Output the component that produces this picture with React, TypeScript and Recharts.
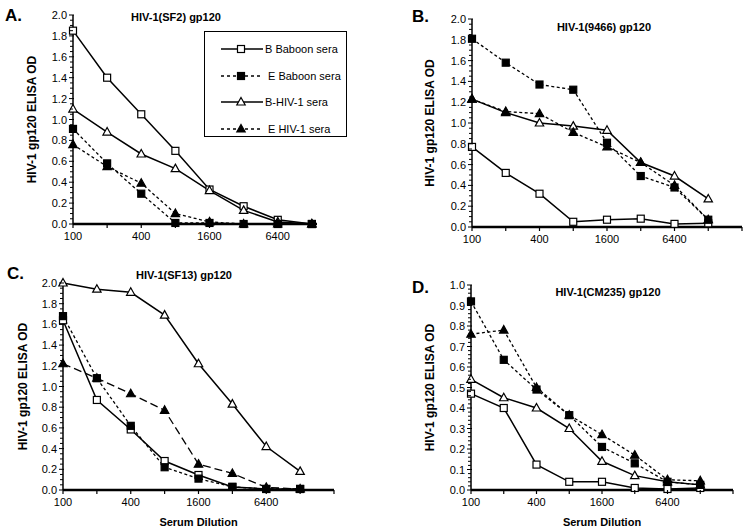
import React from "react";
import { Legend, Line, LineChart, XAxis, YAxis } from "recharts";

// serum dilutions, two-fold steps
const dilutions = ["100", "200", "400", "800", "1600", "3200", "6400", "12800"];
const xTickLabels = ["100", "", "400", "", "1600", "", "6400", "", ""];

// A. HIV-1(SF2) gp120
const sf2BBaboon = [1.85, 1.4, 1.05, 0.7, 0.33, 0.17, 0.04, 0.0];
const sf2EBaboon = [0.91, 0.58, 0.29, 0.01, 0.01, 0.0, 0.0, 0.0];
const sf2BHiv = [1.1, 0.88, 0.67, 0.53, 0.32, 0.13, 0.02, 0.0];
const sf2EHiv = [0.76, 0.55, 0.39, 0.1, 0.02, 0.0, 0.0, 0.0];

// B. HIV-1(9466) gp120
const h9466BBaboon = [0.77, 0.52, 0.32, 0.05, 0.07, 0.08, 0.03, 0.035];
const h9466EBaboon = [1.81, 1.58, 1.37, 1.32, 0.81, 0.49, 0.38, 0.07];
const h9466BHiv = [1.23, 1.1, 1.0, 0.97, 0.93, 0.62, 0.49, 0.27];
const h9466EHiv = [1.23, 1.11, 1.09, 0.91, 0.77, 0.62, 0.4, 0.07];

// C. HIV-1(SF13) gp120
const sf13BBaboon = [1.64, 0.87, 0.585, 0.28, 0.145, 0.03, 0.01, 0.01];
const sf13EBaboon = [1.68, 1.08, 0.62, 0.22, 0.11, 0.03, 0.01, 0.01];
const sf13BHiv = [2.0, 1.94, 1.91, 1.69, 1.22, 0.83, 0.42, 0.18];
const sf13EHiv = [1.22, 1.08, 0.93, 0.77, 0.25, 0.16, 0.025, 0.01];

// D. HIV-1(CM235) gp120
const cm235BBaboon = [0.47, 0.4, 0.124, 0.04, 0.04, 0.01, 0.005, 0.01];
const cm235EBaboon = [0.92, 0.635, 0.49, 0.365, 0.21, 0.13, 0.04, 0.025];
const cm235BHiv = [0.54, 0.45, 0.4, 0.3, 0.14, 0.07, 0.04, 0.025];
const cm235EHiv = [0.76, 0.78, 0.5, 0.365, 0.27, 0.17, 0.05, 0.045];

const yTicks2 = Array.from({ length: 41 }, (_, k) => Math.round(k * 5) / 100);
const yTicks1 = Array.from({ length: 51 }, (_, k) => Math.round(k * 2) / 100);

const FONT = '"Liberation Sans", Arial, Helvetica, sans-serif';

function buildRows(bb: number[], eb: number[], bh: number[], eh: number[]) {
  return dilutions.map((d, i) => ({ i, dilution: d, bb: bb[i], eb: eb[i], bh: bh[i], eh: eh[i] }));
}

type MarkerKind = "sqOpen" | "sqFill" | "triOpen" | "triFill";

function Marker({ cx, cy, kind }: { cx: number; cy: number; kind: MarkerKind }) {
  const fill = kind === "sqFill" || kind === "triFill" ? "#000" : "#fff";
  if (kind === "sqOpen" || kind === "sqFill") {
    return <rect x={cx - 3.5} y={cy - 3.5} width={7} height={7} fill={fill} stroke="#000" strokeWidth={1.2} />;
  }
  return (
    <polygon
      points={`${cx},${cy - 4.5} ${cx + 4.2},${cy + 3} ${cx - 4.2},${cy + 3}`}
      fill={fill}
      stroke="#000"
      strokeWidth={1.2}
    />
  );
}

const dotOf = (kind: MarkerKind) => (props: any) => {
  if (props.cx == null || props.cy == null) return <g key={props.index} />;
  return <Marker key={props.index} cx={props.cx} cy={props.cy} kind={kind} />;
};

const YTick = (props: any) => {
  const { x, y, payload, step } = props;
  const v = payload.value;
  const major = Math.abs(Math.round(v / step) * step - v) < 1e-6;
  return (
    <g>
      <line x1={x - (major ? 4 : 3)} x2={x + (major ? 1 : 0)} y1={y} y2={y} stroke="#000" strokeWidth={1} />
      {major && (
        <text x={x - 6} y={y + 4} textAnchor="end" fontSize={11} fontFamily={FONT} fill="#000">
          {v.toFixed(1)}
        </text>
      )}
    </g>
  );
};

const XTick = (props: any) => {
  const { x, y, payload } = props;
  const label = xTickLabels[payload.value] ?? "";
  return (
    <g>
      <line x1={x} x2={x} y1={y} y2={y + 4} stroke="#000" strokeWidth={1.2} />
      {label && (
        <text x={x} y={y + 16} textAnchor="middle" fontSize={11} fontFamily={FONT} fill="#000">
          {label}
        </text>
      )}
    </g>
  );
};

const legendItems: { name: string; kind: MarkerKind; dash?: string }[] = [
  { name: "B Baboon sera", kind: "sqOpen" },
  { name: "E Baboon sera", kind: "sqFill", dash: "3 3" },
  { name: "B-HIV-1 sera", kind: "triOpen" },
  { name: "E HIV-1 sera", kind: "triFill", dash: "3 3" },
];

function LegendBox() {
  return (
    <div style={{ fontFamily: FONT, fontSize: 11, color: "#000", paddingTop: 4 }}>
      {legendItems.map((it) => (
        <div key={it.name} style={{ display: "flex", alignItems: "center", height: 26.5, paddingLeft: 14 }}>
          <svg width={46} height={12} style={{ display: "block" }}>
            <line x1={2} x2={44} y1={6} y2={6} stroke="#000" strokeWidth={1.3} strokeDasharray={it.dash} />
            <Marker cx={22} cy={6} kind={it.kind} />
          </svg>
          <span style={{ marginLeft: it.dash ? 3 : 0 }}>{it.name}</span>
        </div>
      ))}
    </div>
  );
}

interface PanelProps {
  left: number;
  top: number;
  width: number;
  height: number;
  rows: ReturnType<typeof buildRows>;
  margin: { top: number; right: number; left: number; bottom: number };
  yWidth: number;
  yMax: number;
  xMax: number;
  xTicks: number[];
  labelOffset: number;
  xTitle?: boolean;
  ehDash: string;
  legend?: boolean;
}

function Panel(p: PanelProps) {
  const yTicks = p.yMax === 2 ? yTicks2 : yTicks1;
  const step = p.yMax === 2 ? 0.2 : 0.1;
  return (
    <div style={{ position: "absolute", left: p.left, top: p.top }}>
      <LineChart width={p.width} height={p.height} data={p.rows} margin={p.margin}>
        <XAxis
          type="number"
          dataKey="i"
          domain={[0, p.xMax]}
          ticks={p.xTicks}
          interval={0}
          tickSize={0}
          tickMargin={0}
          tick={<XTick />}
          axisLine={{ stroke: "#000", strokeWidth: 2.5 }}
          tickLine={false}
          height={p.xTitle ? 42 : 26}
          label={
            p.xTitle
              ? { value: "Serum Dilution", position: "insideBottom", offset: 6, style: { fontFamily: FONT, fontSize: 11, fontWeight: "bold", fill: "#000" } }
              : undefined
          }
        />
        <YAxis
          type="number"
          domain={[0, p.yMax]}
          ticks={yTicks}
          interval={0}
          tickSize={0}
          tickMargin={0}
          tick={<YTick step={step} />}
          axisLine={{ stroke: "#000", strokeWidth: 1.5 }}
          tickLine={false}
          width={p.yWidth}
          label={{
            value: "HIV-1 gp120 ELISA OD",
            angle: -90,
            position: "insideLeft",
            offset: p.labelOffset,
            style: { textAnchor: "middle", fontFamily: FONT, fontSize: 12, fontWeight: "bold", fill: "#000" },
          }}
        />
        {p.legend && (
          <Legend
            layout="vertical"
            align="center"
            verticalAlign="middle"
            content={() => <LegendBox />}
            wrapperStyle={{
              left: 204,
              top: 31,
              width: 143,
              height: 106,
              border: "1px solid #000",
              background: "#fff",
              boxSizing: "border-box",
            }}
          />
        )}
        <Line dataKey="bb" name="B Baboon sera" stroke="#000" strokeWidth={1.5} dot={dotOf("sqOpen")} isAnimationActive={false} />
        <Line dataKey="bh" name="B-HIV-1 sera" stroke="#000" strokeWidth={1.5} dot={dotOf("triOpen")} isAnimationActive={false} />
        <Line dataKey="eb" name="E Baboon sera" stroke="#000" strokeWidth={1.3} strokeDasharray="3 2.5" dot={dotOf("sqFill")} isAnimationActive={false} />
        <Line dataKey="eh" name="E HIV-1 sera" stroke="#000" strokeWidth={1.3} strokeDasharray={p.ehDash} dot={dotOf("triFill")} isAnimationActive={false} />
      </LineChart>
    </div>
  );
}

const textStyle = (left: number, top: number, size: number, center = false): React.CSSProperties => ({
  position: "absolute",
  left: center ? left - 100 : left,
  width: center ? 200 : undefined,
  textAlign: center ? "center" : "left",
  top: top - size * 0.6,
  fontFamily: FONT,
  fontSize: size,
  lineHeight: `${size * 1.2}px`,
  fontWeight: "bold",
  color: "#000",
  whiteSpace: "nowrap",
});

export default function App() {
  const full = [0, 1, 2, 3, 4, 5, 6, 7, 8];
  return (
    <div style={{ position: "absolute", left: 0, top: 0, width: 753, height: 532, background: "#fff", overflow: "hidden" }}>
      <Panel
        left={0}
        top={0}
        width={376}
        height={262}
        rows={buildRows(sf2BBaboon, sf2EBaboon, sf2BHiv, sf2EHiv)}
        margin={{ top: 15, right: 59, left: 0, bottom: 12 }}
        yWidth={73}
        yMax={2}
        xMax={7.15}
        xTicks={[0, 1, 2, 3, 4, 5, 6, 7]}
        labelOffset={32}
        ehDash="3 2.5"
        legend
      />
      <Panel
        left={376}
        top={0}
        width={377}
        height={262}
        rows={buildRows(h9466BBaboon, h9466EBaboon, h9466BHiv, h9466EHiv)}
        margin={{ top: 19, right: 11, left: 0, bottom: 9 }}
        yWidth={96}
        yMax={2}
        xMax={8}
        xTicks={full}
        labelOffset={54}
        ehDash="3 2.5"
      />
      <Panel
        left={0}
        top={262}
        width={376}
        height={270}
        rows={buildRows(sf13BBaboon, sf13EBaboon, sf13BHiv, sf13EHiv)}
        margin={{ top: 21, right: 42, left: 0, bottom: 0 }}
        yWidth={63}
        yMax={2}
        xMax={8}
        xTicks={full}
        labelOffset={23}
        xTitle
        ehDash="8 4"
      />
      <Panel
        left={376}
        top={262}
        width={377}
        height={270}
        rows={buildRows(cm235BBaboon, cm235EBaboon, cm235BHiv, cm235EHiv)}
        margin={{ top: 23, right: 20, left: 0, bottom: 0 }}
        yWidth={95}
        yMax={1}
        xMax={8}
        xTicks={full}
        labelOffset={54}
        xTitle
        ehDash="3 2.5"
      />

      <div style={textStyle(176, 18, 11, true)}>HIV-1(SF2) gp120</div>
      <div style={textStyle(604, 28, 11, true)}>HIV-1(9466) gp120</div>
      <div style={textStyle(184, 276, 11, true)}>HIV-1(SF13) gp120</div>
      <div style={textStyle(608, 293, 11, true)}>HIV-1(CM235) gp120</div>

      <div style={textStyle(5, 16, 17)}>A.</div>
      <div style={textStyle(412, 17, 17)}>B.</div>
      <div style={textStyle(7, 274, 17)}>C.</div>
      <div style={textStyle(412, 288, 17)}>D.</div>
    </div>
  );
}
